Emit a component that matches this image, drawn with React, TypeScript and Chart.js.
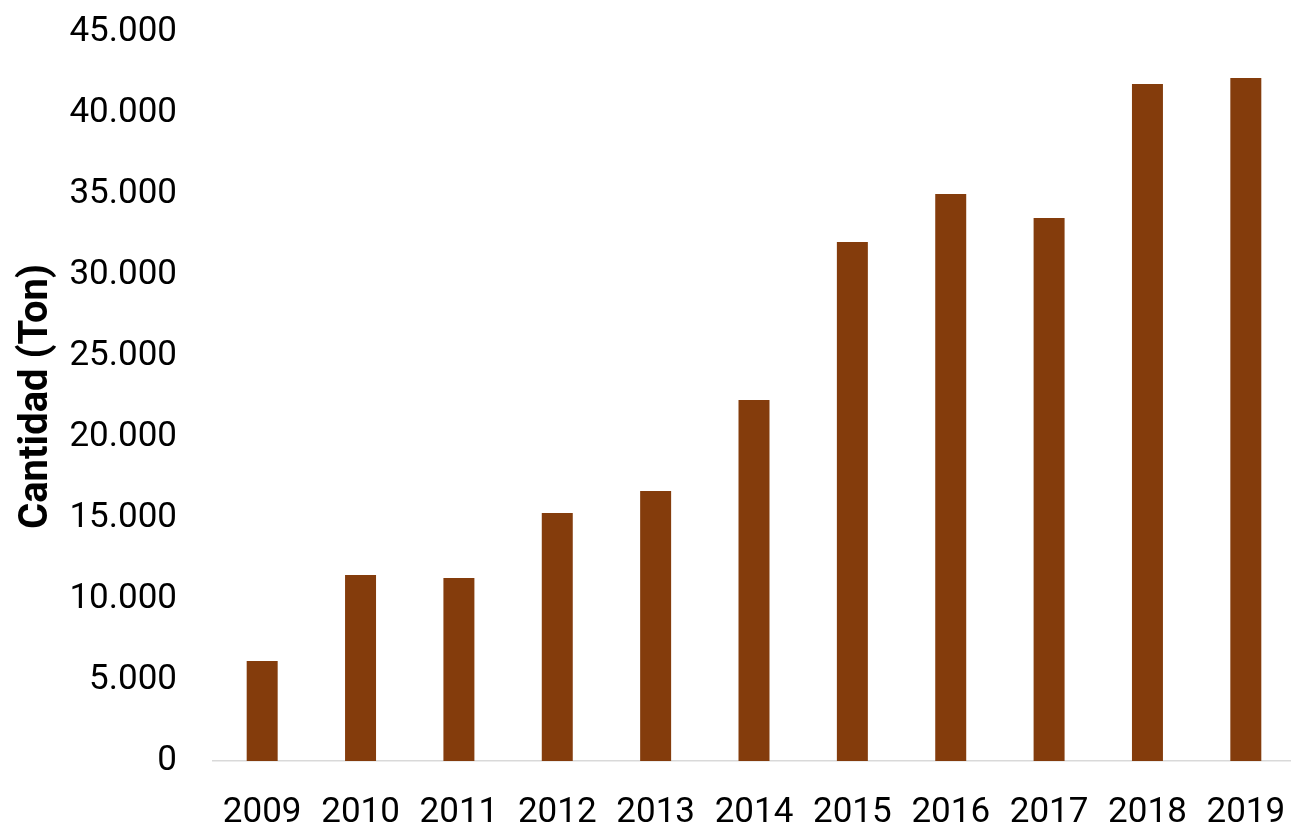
import React, { useEffect, useRef } from "react";
import { Chart, registerables } from "chart.js";

Chart.register(...registerables);

const years = ["2009", "2010", "2011", "2012", "2013", "2014", "2015", "2016", "2017", "2018", "2019"];
const cantidad = [6170, 11480, 11300, 15310, 16670, 22280, 32040, 35000, 33520, 41790, 42160];
const yMax = 45000;
const yStep = 5000;
const yTitle = "Cantidad (Ton)";

const fmt = (v: number) => v.toLocaleString("de-DE");

export default function App() {
  const ref = useRef<HTMLCanvasElement | null>(null);

  useEffect(() => {
    document.body.style.margin = "0";
    const canvas = ref.current;
    if (!canvas) return;
    const chart = new Chart(canvas, {
      type: "bar",
      data: {
        labels: years,
        datasets: [
          {
            data: cantidad,
            backgroundColor: "#843C0C",
            borderWidth: 0,
            categoryPercentage: 1,
            barPercentage: 0.315,
          },
        ],
      },
      options: {
        animation: false,
        responsive: false,
        devicePixelRatio: 1,
        layout: { padding: { top: 32, right: 0, bottom: 0, left: 0 } },
        plugins: {
          legend: { display: false },
          tooltip: { enabled: false },
        },
        scales: {
          x: {
            grid: { display: false, drawTicks: false },
            border: { display: true, color: "#D9D9D9", width: 1.5 },
            ticks: {
              color: "#000000",
              font: { family: "Roboto", size: 35 },
              padding: 31,
              maxRotation: 0,
              autoSkip: false,
            },
            afterFit: (s: any) => {
              s.height = 65;
              s.paddingLeft = 0;
              s.paddingRight = 0;
            },
          },
          y: {
            min: 0,
            max: yMax,
            grid: { display: false, drawTicks: false },
            border: { display: false },
            ticks: {
              stepSize: yStep,
              color: "#000000",
              font: { family: "Roboto", size: 35 },
              padding: 36,
              callback: (v: any) => fmt(Number(v)),
            },
            title: {
              display: true,
              text: yTitle,
              color: "#000000",
              font: { family: "Roboto", size: 40, weight: "bold" },
              padding: { top: 13, bottom: 0 },
            },
            afterFit: (s: any) => {
              s.width = 213;
              s.paddingTop = 0;
              s.paddingBottom = 0;
            },
          },
        },
      },
    });
    return () => chart.destroy();
  }, []);

  return (
    <div
      style={{
        position: "fixed",
        left: 0,
        top: 0,
        width: 1291,
        height: 826,
        overflow: "hidden",
        background: "#ffffff",
      }}
    >
      <canvas ref={ref} width={1295} height={826} style={{ display: "block" }} />
    </div>
  );
}
